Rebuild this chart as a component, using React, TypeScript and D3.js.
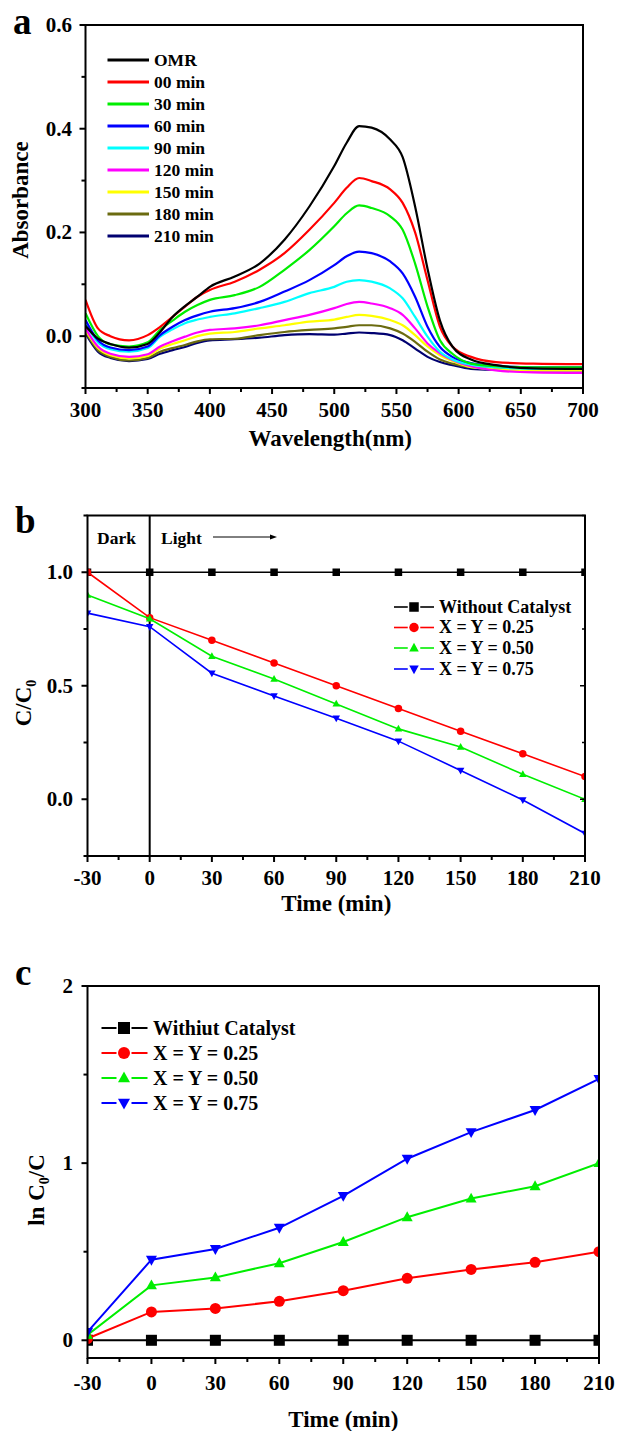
import React from 'react';
import * as d3 from 'd3';

const FONT = "'Liberation Serif','Times New Roman',Times,serif";

// ---------- Panel a: UV-vis spectra ----------
const wavelengths = [300, 310, 320, 335, 350, 360, 370, 380, 390, 400, 420, 440, 460, 480, 500, 510, 520, 530, 545, 555, 565, 575, 585, 595, 610, 630, 660, 700];
const absOMR = [0.02, -0.005, -0.015, -0.022, -0.015, 0.008, 0.037, 0.058, 0.076, 0.095, 0.115, 0.14, 0.186, 0.25, 0.328, 0.373, 0.405, 0.402, 0.379, 0.345, 0.25, 0.13, 0.03, -0.02, -0.045, -0.056, -0.062, -0.063];
const abs00 = [0.07, 0.015, 0.0, -0.008, 0.002, 0.018, 0.037, 0.057, 0.076, 0.089, 0.105, 0.128, 0.16, 0.205, 0.257, 0.286, 0.305, 0.299, 0.283, 0.257, 0.2, 0.108, 0.018, -0.02, -0.04, -0.05, -0.053, -0.054];
const abs30 = [0.044, 0.0, -0.016, -0.02, -0.012, 0.012, 0.03, 0.047, 0.06, 0.07, 0.079, 0.095, 0.128, 0.166, 0.212, 0.237, 0.252, 0.247, 0.231, 0.205, 0.14, 0.057, -0.008, -0.034, -0.053, -0.058, -0.06, -0.06];
const abs60 = [0.031, -0.008, -0.022, -0.027, -0.02, 0.002, 0.018, 0.031, 0.04, 0.047, 0.054, 0.066, 0.086, 0.108, 0.137, 0.154, 0.163, 0.16, 0.144, 0.121, 0.076, 0.018, -0.021, -0.04, -0.052, -0.057, -0.06, -0.06];
const abs90 = [0.025, -0.012, -0.025, -0.03, -0.023, -0.001, 0.013, 0.025, 0.032, 0.037, 0.044, 0.054, 0.066, 0.083, 0.095, 0.105, 0.108, 0.105, 0.092, 0.073, 0.037, -0.001, -0.03, -0.045, -0.055, -0.06, -0.063, -0.063];
const abs120 = [0.015, -0.02, -0.034, -0.04, -0.035, -0.02, -0.01, -0.001, 0.007, 0.012, 0.015, 0.021, 0.031, 0.041, 0.054, 0.062, 0.066, 0.063, 0.054, 0.041, 0.015, -0.014, -0.033, -0.046, -0.058, -0.066, -0.07, -0.071];
const abs150 = [0.012, -0.023, -0.037, -0.043, -0.038, -0.024, -0.015, -0.008, 0.0, 0.005, 0.008, 0.015, 0.021, 0.028, 0.032, 0.037, 0.041, 0.039, 0.031, 0.021, 0.002, -0.02, -0.037, -0.048, -0.06, -0.064, -0.066, -0.066];
const abs180 = [0.008, -0.027, -0.04, -0.047, -0.042, -0.03, -0.023, -0.017, -0.01, -0.006, -0.005, 0.002, 0.008, 0.012, 0.015, 0.018, 0.021, 0.021, 0.015, 0.005, -0.011, -0.03, -0.045, -0.053, -0.06, -0.063, -0.065, -0.065];
const abs210 = [0.005, -0.03, -0.042, -0.048, -0.044, -0.034, -0.027, -0.021, -0.013, -0.008, -0.006, -0.003, 0.002, 0.004, 0.003, 0.005, 0.007, 0.006, 0.002, -0.008, -0.024, -0.04, -0.05, -0.056, -0.063, -0.065, -0.066, -0.066];
const spectraLabels = ['OMR', '00 min', '30 min', '60 min', '90 min', '120 min', '150 min', '180 min', '210 min'];
const spectraColors = ['#000000', '#ff0000', '#00ee00', '#0000ff', '#00ffff', '#ff00ff', '#ffff00', '#6b6b10', '#000070'];
const spectra = [absOMR, abs00, abs30, abs60, abs90, abs120, abs150, abs180, abs210];
const aXTicks = [300, 350, 400, 450, 500, 550, 600, 650, 700];
const aYTicks = [0, 0.2, 0.4, 0.6];

// ---------- Panel b: C/C0 ----------
const timeMin = [-30, 0, 30, 60, 90, 120, 150, 180, 210];
const ccWithout = [1, 1, 1, 1, 1, 1, 1, 1, 1];
const cc025 = [1.0, 0.8, 0.7, 0.6, 0.5, 0.4, 0.3, 0.2, 0.1];
const cc050 = [0.9, 0.795, 0.63, 0.53, 0.42, 0.31, 0.23, 0.11, 0.0];
const cc075 = [0.82, 0.76, 0.555, 0.455, 0.357, 0.256, 0.127, -0.003, -0.151];
const bLabels = ['Without Catalyst', 'X = Y = 0.25', 'X = Y = 0.50', 'X = Y = 0.75'];
const cLabels = ['Withiut Catalyst', 'X = Y = 0.25', 'X = Y = 0.50', 'X = Y = 0.75'];
const seriesColors = ['#000000', '#ff0000', '#00ee00', '#0000ff'];
const seriesShapes = ['square', 'circle', 'up', 'down'];
const bYTicks = [0, 0.5, 1.0];

// ---------- Panel c: ln(C0/C) ----------
const lnWithout = [0, 0, 0, 0, 0, 0, 0, 0, 0];
const ln025 = [0.01, 0.16, 0.18, 0.22, 0.28, 0.35, 0.40, 0.44, 0.50];
const ln050 = [0.03, 0.31, 0.355, 0.435, 0.555, 0.695, 0.80, 0.87, 1.0];
const ln075 = [0.047, 0.455, 0.515, 0.635, 0.815, 1.025, 1.175, 1.30, 1.475];
const cYTicks = [0, 1, 2];

type Box = { l: number; r: number; t: number; b: number };

function Marker({ shape, x, y, s, color }: { shape: string; x: number; y: number; s: number; color: string }) {
  if (shape === 'square') return <rect x={x - s / 2} y={y - s / 2} width={s} height={s} fill={color} />;
  if (shape === 'circle') return <circle cx={x} cy={y} r={s / 2} fill={color} />;
  const h = s * 0.9;
  if (shape === 'up')
    return <path d={`M${x},${y - h * 0.6}L${x + s / 2},${y + h * 0.4}L${x - s / 2},${y + h * 0.4}Z`} fill={color} />;
  return <path d={`M${x},${y + h * 0.6}L${x + s / 2},${y - h * 0.4}L${x - s / 2},${y - h * 0.4}Z`} fill={color} />;
}

function Axes(props: {
  box: Box; x: any; y: any; xTicks: number[]; xMinor: number[]; yTicks: number[]; yMinor: number[];
  xFmt: (v: number) => string; yFmt: (v: number) => string; fs: number; xLabelBase: number; yLabelRight: number; rightTicks?: boolean;
}) {
  const { box, x, y, xTicks, xMinor, yTicks, yMinor, xFmt, yFmt, fs, xLabelBase, yLabelRight, rightTicks } = props;
  return (
    <g>
      <rect x={box.l} y={box.t} width={box.r - box.l} height={box.b - box.t} fill="none" stroke="#000" strokeWidth={2} />
      {xTicks.map((v) => (
        <g key={'xt' + v}>
          <line x1={x(v)} x2={x(v)} y1={box.b} y2={box.b + 6} stroke="#000" strokeWidth={2} />
          <text x={x(v)} y={xLabelBase} textAnchor="middle" fontSize={fs} fontWeight="bold" fontFamily={FONT}>{xFmt(v)}</text>
        </g>
      ))}
      {xMinor.map((v) => (
        <line key={'xm' + v} x1={x(v)} x2={x(v)} y1={box.b} y2={box.b + 4} stroke="#000" strokeWidth={2} />
      ))}
      {yTicks.map((v) => (
        <g key={'yt' + v}>
          <line x1={box.l - 6} x2={box.l} y1={y(v)} y2={y(v)} stroke="#000" strokeWidth={2} />
          {rightTicks && <line x1={box.r - 5} x2={box.r} y1={y(v)} y2={y(v)} stroke="#000" strokeWidth={1.5} />}
          <text x={yLabelRight} y={y(v) + fs * 0.33} textAnchor="end" fontSize={fs} fontWeight="bold" fontFamily={FONT}>{yFmt(v)}</text>
        </g>
      ))}
      {yMinor.map((v) => (
        <g key={'ym' + v}>
          <line x1={box.l - 4} x2={box.l} y1={y(v)} y2={y(v)} stroke="#000" strokeWidth={2} />
          {rightTicks && <line x1={box.r - 3} x2={box.r} y1={y(v)} y2={y(v)} stroke="#000" strokeWidth={1.5} />}
        </g>
      ))}
    </g>
  );
}

function RotTitle({ bx, cy, fs, children }: { bx: number; cy: number; fs: number; children: any }) {
  return (
    <text transform={`translate(${bx},${cy}) rotate(-90)`} textAnchor="middle" fontSize={fs} fontWeight="bold" fontFamily={FONT}>
      {children}
    </text>
  );
}

function SeriesPanel(props: {
  id: string; box: Box; yDomain: [number, number]; series: number[][]; labels: string[];
  lineW: number; mSize: number; legend: { x1: number; x2: number; mx: number; tx: number; ys: number[]; fs: number; ms: number };
}) {
  const { id, box, yDomain, series, labels, lineW, mSize, legend } = props;
  const x = d3.scaleLinear().domain([-30, 210]).range([box.l, box.r]);
  const y = d3.scaleLinear().domain(yDomain).range([box.b, box.t]);
  const line = d3.line<number>().x((_, i) => x(timeMin[i])).y((d) => y(d));
  return (
    <g>
      <defs>
        <clipPath id={id}>
          <rect x={box.l} y={box.t} width={box.r - box.l} height={box.b - box.t} />
        </clipPath>
      </defs>
      <g clipPath={`url(#${id})`}>
        {series.map((s, k) => (
          <g key={k}>
            <path d={line(s) || ''} fill="none" stroke={seriesColors[k]} strokeWidth={lineW} />
            {s.map((v, i) => (
              <Marker key={i} shape={seriesShapes[k]} x={x(timeMin[i])} y={y(v)} s={mSize} color={seriesColors[k]} />
            ))}
          </g>
        ))}
      </g>
      {labels.map((lab, k) => (
        <g key={'lg' + k}>
          <line x1={legend.x1} x2={legend.mx - legend.ms / 2 - 1.5} y1={legend.ys[k]} y2={legend.ys[k]} stroke={seriesColors[k]} strokeWidth={lineW} />
          <line x1={legend.mx + legend.ms / 2 + 1.5} x2={legend.x2} y1={legend.ys[k]} y2={legend.ys[k]} stroke={seriesColors[k]} strokeWidth={lineW} />
          <Marker shape={seriesShapes[k]} x={legend.mx} y={legend.ys[k]} s={legend.ms} color={seriesColors[k]} />
          <text x={legend.tx} y={legend.ys[k] + legend.fs * 0.33} fontSize={legend.fs} fontWeight="bold" fontFamily={FONT}>{lab}</text>
        </g>
      ))}
      <Axes
        box={box} x={x} y={y}
        xTicks={timeMin} xMinor={[-15, 15, 45, 75, 105, 135, 165, 195]}
        yTicks={id === 'clipB' ? bYTicks : cYTicks}
        yMinor={id === 'clipB' ? [-0.25, 0.25, 0.75, 1.25] : [0.5, 1.5]}
        xFmt={(v) => String(v)}
        yFmt={(v) => (id === 'clipB' ? d3.format('.1f')(v) : String(v))}
        fs={21}
        xLabelBase={id === 'clipB' ? 885 : 1390}
        yLabelRight={73}
        rightTicks={id === 'clipB'}
      />
    </g>
  );
}

export default function App() {
  // Panel a
  const aBox: Box = { l: 85.5, r: 583, t: 25, b: 388 };
  const ax = d3.scaleLinear().domain([300, 700]).range([aBox.l, aBox.r]);
  const ay = d3.scaleLinear().domain([-0.1, 0.6]).range([aBox.b, aBox.t]);
  const specLine = d3.line<number>().x((_, i) => ax(wavelengths[i])).y((d) => ay(d)).curve(d3.curveMonotoneX);
  const aLegendYs = spectraLabels.map((_, i) => 60 + i * 22);

  // Panel b
  const bBox: Box = { l: 87.5, r: 585, t: 515.5, b: 856 };
  const bx = d3.scaleLinear().domain([-30, 210]).range([bBox.l, bBox.r]);

  // Panel c
  const cBox: Box = { l: 87.5, r: 599, t: 986, b: 1358 };

  return (
    <svg width={617} height={1431} style={{ position: 'absolute', left: 0, top: 0, background: '#fff' }}>
      <rect x={0} y={0} width={617} height={1431} fill="#fff" />
      {/* ---------- a ---------- */}
      <text x={13} y={34} fontSize={37} fontWeight="bold" fontFamily={FONT}>a</text>
      <defs>
        <clipPath id="clipA">
          <rect x={aBox.l} y={aBox.t} width={aBox.r - aBox.l} height={aBox.b - aBox.t} />
        </clipPath>
      </defs>
      <g clipPath="url(#clipA)">
        {spectra.map((s, k) => ({ s, k })).reverse().map(({ s, k }) => (
          <path key={k} d={specLine(s) || ''} fill="none" stroke={spectraColors[k]} strokeWidth={2.2} />
        ))}
      </g>
      {spectraLabels.map((lab, i) => (
        <g key={lab}>
          <line x1={107.5} x2={149} y1={aLegendYs[i]} y2={aLegendYs[i]} stroke={spectraColors[i]} strokeWidth={2.8} />
          <text x={154} y={aLegendYs[i] + 6} fontSize={17.5} fontWeight="bold" fontFamily={FONT}>{lab}</text>
        </g>
      ))}
      <Axes
        box={aBox} x={ax} y={ay}
        xTicks={aXTicks} xMinor={[325, 375, 425, 475, 525, 575, 625, 675]}
        yTicks={aYTicks} yMinor={[-0.1, 0.1, 0.3, 0.5]}
        xFmt={(v) => String(v)} yFmt={(v) => d3.format('.1f')(v)}
        fs={21} xLabelBase={417} yLabelRight={72}
      />
      <RotTitle bx={27.5} cy={200} fs={23}>Absorbance</RotTitle>
      <text x={(aBox.l + aBox.r) / 2 - 4} y={446} textAnchor="middle" fontSize={23} fontWeight="bold" fontFamily={FONT}>Wavelength(nm)</text>

      {/* ---------- b ---------- */}
      <text x={15} y={533} fontSize={37} fontWeight="bold" fontFamily={FONT}>b</text>
      <line x1={bx(0)} x2={bx(0)} y1={bBox.t} y2={bBox.b} stroke="#000" strokeWidth={2} />
      <text x={97} y={544} fontSize={17.5} fontWeight="bold" fontFamily={FONT}>Dark</text>
      <text x={161} y={544} fontSize={17.5} fontWeight="bold" fontFamily={FONT}>Light</text>
      <line x1={213} x2={271} y1={537} y2={537} stroke="#000" strokeWidth={1} />
      <path d="M277,537L270,534.5L270,539.5Z" fill="#000" />
      <SeriesPanel
        id="clipB" box={bBox} yDomain={[-0.25, 1.25]}
        series={[ccWithout, cc025, cc050, cc075]} labels={bLabels}
        lineW={1.6} mSize={7.5}
        legend={{ x1: 394, x2: 434, mx: 414, tx: 439, ys: [607, 627.5, 648, 669], fs: 18, ms: 9.5 }}
      />
      <RotTitle bx={31} cy={703} fs={23}>
        C/C<tspan fontSize={14} dy={5}>0</tspan>
      </RotTitle>
      <text x={(bBox.l + bBox.r) / 2} y={911} textAnchor="middle" fontSize={23} fontWeight="bold" fontFamily={FONT}>Time (min)</text>

      {/* ---------- c ---------- */}
      <text x={15} y={985} fontSize={37} fontWeight="bold" fontFamily={FONT}>c</text>
      <SeriesPanel
        id="clipC" box={cBox} yDomain={[-0.1, 2]}
        series={[lnWithout, ln025, ln050, ln075]} labels={cLabels}
        lineW={2} mSize={11}
        legend={{ x1: 101.5, x2: 147.5, mx: 124, tx: 153, ys: [1028, 1053, 1078, 1103], fs: 20, ms: 12 }}
      />
      <RotTitle bx={44} cy={1190} fs={23}>
        ln C<tspan fontSize={14} dy={5}>0</tspan><tspan dy={-5}>/C</tspan>
      </RotTitle>
      <text x={(cBox.l + cBox.r) / 2} y={1427} textAnchor="middle" fontSize={23} fontWeight="bold" fontFamily={FONT}>Time (min)</text>
    </svg>
  );
}
